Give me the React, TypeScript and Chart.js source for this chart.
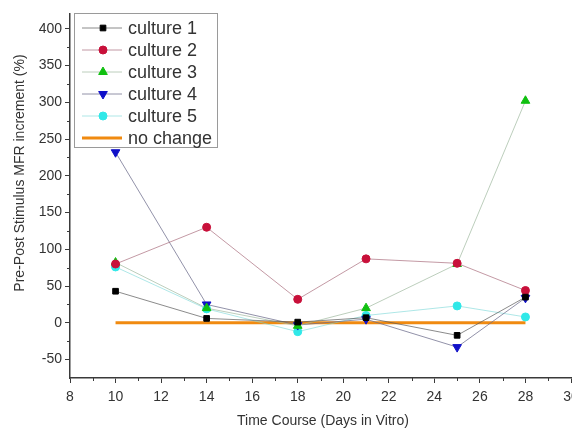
import { useEffect, useRef } from "react";
import { Chart, registerables } from "chart.js";
import { drawPoint } from "chart.js/helpers";

Chart.register(...registerables);

// Sampling days (days in vitro)
const days = [10, 14, 18, 21, 25, 28];

// Pre/post stimulus MFR increment (%) per culture
const culture1 = [43, 6, 1, 7, -17, 35];
const culture2 = [80, 130, 32, 87, 81, 44];
const culture3 = [82, 20, -4, 20, 80, 302];
const culture4 = [232, 25, -3, 5, -33, 34];
const culture5 = [76, 19, -12, 10, 23, 8];

// Reference line for "no change"
const noChangeDays = [10, 28];
const noChangeValues = [0, 0];

const seriesNames = ["culture 1", "culture 2", "culture 3", "culture 4", "culture 5", "no change"];

const xTickValues = [8, 10, 12, 14, 16, 18, 20, 22, 24, 26, 28, 30];
const yTickValues = [-50, 0, 50, 100, 150, 200, 250, 300, 350, 400];

const FONT = '"Liberation Sans", Arial, Helvetica, sans-serif';
const AXIS = "#3a3a3a";
const TEXT = "#333333";

const toPoints = (xs: number[], ys: number[]) => xs.map((x, i) => ({ x, y: ys[i] }));

const decorations = {
  id: "decorations",
  afterDraw(chart: any) {
    const { ctx, chartArea, scales } = chart;
    const xs = scales.x;
    const ys = scales.y;
    ctx.save();

    // minor ticks
    ctx.strokeStyle = AXIS;
    ctx.lineWidth = 1;
    ctx.beginPath();
    for (let v = 9; v < 30; v += 2) {
      const px = Math.round(xs.getPixelForValue(v)) + 0.5;
      ctx.moveTo(px, chartArea.bottom);
      ctx.lineTo(px, chartArea.bottom + 3);
    }
    for (let v = -25; v <= 400; v += 50) {
      const py = Math.round(ys.getPixelForValue(v)) + 0.5;
      ctx.moveTo(chartArea.left, py);
      ctx.lineTo(chartArea.left - 3, py);
    }
    ctx.stroke();

    // axis titles
    ctx.fillStyle = TEXT;
    ctx.font = `14px ${FONT}`;
    ctx.textAlign = "center";
    ctx.textBaseline = "middle";
    ctx.fillText("Time Course (Days in Vitro)", 323, 421);
    ctx.save();
    ctx.translate(20, 173);
    ctx.rotate(-Math.PI / 2);
    ctx.fillText("Pre-Post Stimulus MFR increment (%)", 0, 0);
    ctx.restore();

    // legend box
    const left = 74;
    const top = 13;
    const w = 143;
    const h = 134;
    ctx.fillStyle = "#ffffff";
    ctx.fillRect(left, top, w, h);
    ctx.strokeStyle = "#9a9a9a";
    ctx.lineWidth = 1;
    ctx.strokeRect(left + 0.5, top + 0.5, w, h);

    chart.data.datasets.forEach((ds: any, i: number) => {
      const cy = top + 15 + i * 22;
      ctx.strokeStyle = ds.borderColor;
      ctx.lineWidth = ds.borderWidth;
      ctx.beginPath();
      ctx.moveTo(left + 8, cy);
      ctx.lineTo(left + 48, cy);
      ctx.stroke();
      if (ds.pointRadius > 0) {
        ctx.fillStyle = ds.pointBackgroundColor;
        ctx.strokeStyle = ds.pointBorderColor;
        drawPoint(ctx, {
          pointStyle: ds.pointStyle,
          rotation: ds.pointRotation || 0,
          radius: ds.pointRadius,
          borderWidth: 1,
        }, left + 29, cy);
      }
      ctx.fillStyle = TEXT;
      ctx.font = `18px ${FONT}`;
      ctx.textAlign = "left";
      ctx.textBaseline = "middle";
      ctx.fillText(seriesNames[i], left + 54, cy + 1);
    });

    ctx.restore();
  },
};

function series(name: string, ys: number[], marker: string, line: string, style: string, radius: number, rotation = 0) {
  return {
    label: name,
    data: toPoints(days, ys),
    borderColor: line,
    borderWidth: 1,
    pointStyle: style,
    pointRotation: rotation,
    pointRadius: radius,
    pointBackgroundColor: marker,
    pointBorderColor: marker,
    pointBorderWidth: 1,
    fill: false,
  };
}

export default function App() {
  const canvasRef = useRef<HTMLCanvasElement | null>(null);

  useEffect(() => {
    if (!canvasRef.current) return;
    const chart = new Chart(canvasRef.current, {
      type: "line",
      data: {
        datasets: [
          series(seriesNames[0], culture1, "#000000", "rgba(90,90,90,0.7)", "rect", 4),
          series(seriesNames[1], culture2, "#c8103a", "rgba(170,110,125,0.7)", "circle", 4),
          series(seriesNames[2], culture3, "#10c010", "rgba(160,185,160,0.7)", "triangle", 5),
          series(seriesNames[3], culture4, "#1010c8", "rgba(110,110,140,0.75)", "triangle", 5, 180),
          series(seriesNames[4], culture5, "#30e8e8", "rgba(120,215,215,0.6)", "circle", 4),
          {
            label: seriesNames[5],
            data: toPoints(noChangeDays, noChangeValues),
            borderColor: "#f08a10",
            borderWidth: 3,
            pointRadius: 0,
            fill: false,
          },
        ] as any,
      },
      options: {
        animation: false,
        responsive: false,
        layout: { autoPadding: false, padding: { top: 14, right: 1, left: 0, bottom: 0 } },
        plugins: { legend: { display: false }, tooltip: { enabled: false } },
        scales: {
          x: {
            type: "linear",
            min: 8,
            max: 30,
            afterBuildTicks: (s: any) => {
              s.ticks = xTickValues.map((v) => ({ value: v }));
            },
            afterFit: (s: any) => {
              s.height = 54;
              s.paddingLeft = 0;
              s.paddingRight = 0;
            },
            border: { display: true, color: AXIS, width: 1.5 },
            grid: { display: true, drawOnChartArea: false, drawTicks: true, tickLength: 5, color: AXIS, lineWidth: 1 },
            ticks: { color: TEXT, font: { family: FONT, size: 14 }, padding: 6, maxRotation: 0, autoSkip: false },
          },
          y: {
            type: "linear",
            min: -75,
            max: 420,
            afterBuildTicks: (s: any) => {
              s.ticks = yTickValues.map((v) => ({ value: v }));
            },
            afterFit: (s: any) => {
              s.width = 70;
              s.paddingTop = 0;
              s.paddingBottom = 0;
            },
            border: { display: true, color: AXIS, width: 1.5 },
            grid: { display: true, drawOnChartArea: false, drawTicks: true, tickLength: 5, color: AXIS, lineWidth: 1 },
            ticks: { color: TEXT, font: { family: FONT, size: 14 }, padding: 3 },
          },
        },
      },
      plugins: [decorations],
    } as any);
    return () => chart.destroy();
  }, []);

  return (
    <div style={{ position: "fixed", left: 0, top: 0, width: 572, height: 432, background: "#fff" }}>
      <canvas ref={canvasRef} width={572} height={432} />
    </div>
  );
}
